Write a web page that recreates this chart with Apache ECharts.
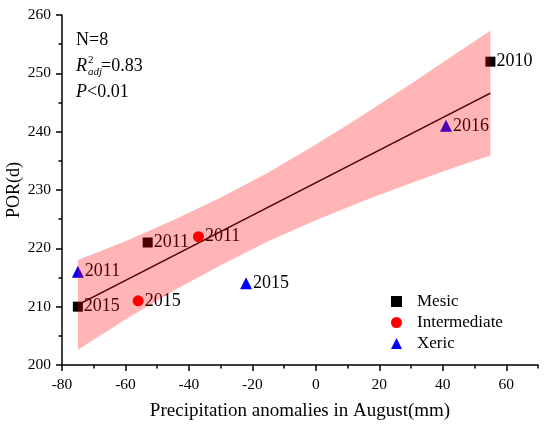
<!DOCTYPE html>
<html><head><meta charset="utf-8">
<script src="https://cdn.jsdelivr.net/npm/echarts@6/dist/echarts.min.js"></script>
<style>html,body{margin:0;padding:0;background:#fff}#c{width:550px;height:428px}</style>
</head><body><div id="c"></div>
<script>
// ---- data ----
const mesicX = [-75, -53, 55];
const mesicY = [210, 221, 252];
const mesicYears = ['2015', '2011', '2010'];
const interX = [-56, -37];
const interY = [211, 222];
const interYears = ['2015', '2011'];
const xericX = [-75, -22, 41];
const xericY = [216, 214, 241];
const xericYears = ['2011', '2015', '2016'];
const fitX = [-75, 55];
const fitY = [210.3, 246.6];
const bandX = [-75, -60, -45, -30, -15, 0, 15, 30, 45, 55];
const bandUpper = [218.0, 221.2, 224.8, 228.7, 233.0, 237.8, 242.9, 248.2, 253.7, 257.3];
const bandLower = [202.6, 207.8, 212.7, 217.1, 221.2, 224.8, 228.1, 231.2, 234.1, 235.9];
const xTicks = [-80, -60, -40, -20, 0, 20, 40, 60];
const xMinorTicks = [-70, -50, -30, -10, 10, 30, 50, 70];
const yTicks = [200, 210, 220, 230, 240, 250, 260];
const yMinorTicks = [205, 215, 225, 235, 245, 255];

const FONT = '"Liberation Serif", "Times New Roman", serif';
const chart = echarts.init(document.getElementById('c'), null, {renderer: 'canvas'});

function pts(xs, ys, yrs) { return xs.map((x, i) => [x, ys[i], yrs[i]]); }
const labelCfg = {
  show: true, position: 'right', distance: 1,
  formatter: p => p.value[2],
  color: '#000', fontFamily: FONT, fontSize: 18
};

const axisLineStyle = {color: '#000', width: 1.5};

chart.setOption({
  animation: false,
  backgroundColor: '#fff',
  grid: {left: 62, right: 12, top: 15, bottom: 63, containLabel: false, outerBoundsMode: 'none'},
  xAxis: [{
    type: 'value', min: -80, max: 70, position: 'bottom',
    name: 'Precipitation anomalies in August(mm)', nameLocation: 'middle', nameGap: 37,
    nameTextStyle: {fontFamily: FONT, fontSize: 19, color: '#000'},
    axisLine: {show: true, onZero: false, lineStyle: axisLineStyle},
    axisTick: {show: true, inside: false, length: 6, customValues: xTicks, lineStyle: axisLineStyle},
    axisLabel: {customValues: xTicks, fontFamily: FONT, fontSize: 15.5, color: '#000', margin: 12},
    splitLine: {show: false}
  }, {
    type: 'value', min: -80, max: 70, position: 'bottom',
    axisLine: {show: false, onZero: false},
    axisTick: {show: true, inside: false, length: 3.5, customValues: xMinorTicks, lineStyle: axisLineStyle},
    axisLabel: {show: false},
    splitLine: {show: false}
  }],
  yAxis: [{
    type: 'value', min: 200, max: 260, position: 'left',
    axisLine: {show: true, onZero: false, lineStyle: axisLineStyle},
    axisTick: {show: true, inside: false, length: 6, customValues: yTicks, lineStyle: axisLineStyle},
    axisLabel: {customValues: yTicks, fontFamily: FONT, fontSize: 15.5, color: '#000', margin: 11},
    splitLine: {show: false}
  }, {
    type: 'value', min: 200, max: 260, position: 'left',
    axisLine: {show: false, onZero: false},
    axisTick: {show: true, inside: false, length: 3.5, customValues: yMinorTicks, lineStyle: axisLineStyle},
    axisLabel: {show: false},
    splitLine: {show: false}
  }],
  legend: {
    orient: 'vertical', left: 386, top: 288, itemWidth: 11, itemHeight: 11, itemGap: 4,
    data: ['Mesic', 'Intermediate', 'Xeric'],
    textStyle: {fontFamily: FONT, fontSize: 17, color: '#000', padding: [0, 0, 0, 10]}
  },
  series: [
    {
      name: 'fit', type: 'line', z: 1, silent: true,
      data: fitX.map((x, i) => [x, fitY[i]]),
      showSymbol: false, lineStyle: {color: '#000', width: 1.5}
    },
    {
      name: 'Mesic', type: 'scatter', z: 2, symbol: 'rect', symbolSize: 10,
      itemStyle: {color: '#000', opacity: 1}, data: pts(mesicX, mesicY, mesicYears), label: labelCfg
    },
    {
      name: 'Intermediate', type: 'scatter', z: 2, symbol: 'circle', symbolSize: 11,
      itemStyle: {color: '#ff0000', opacity: 1}, data: pts(interX, interY, interYears), label: labelCfg
    },
    {
      name: 'Xeric', type: 'scatter', z: 2, symbol: 'triangle', symbolSize: 12,
      itemStyle: {color: '#0000ff', opacity: 1}, data: pts(xericX, xericY, xericYears), label: labelCfg
    },
    {
      name: 'band', type: 'custom', z: 5, silent: true,
      data: bandX.map((x, i) => [x, bandUpper[i], bandLower[i]]),
      encode: {x: 0, y: [1, 2]},
      renderItem: function (params, api) {
        if (params.dataIndex !== 0) return null;
        const poly = [];
        for (let i = 0; i < bandX.length; i++) poly.push(api.coord([bandX[i], bandUpper[i]]));
        for (let i = bandX.length - 1; i >= 0; i--) poly.push(api.coord([bandX[i], bandLower[i]]));
        return {type: 'polygon', shape: {points: poly}, style: {fill: 'rgba(255,0,0,0.29)'}};
      }
    }
  ],
  graphic: [
    {type: 'text', x: 14, y: 190, rotation: Math.PI / 2,
     style: {text: 'POR(d)', font: '18px ' + FONT, fill: '#000', align: 'center', verticalAlign: 'middle'}},
    {type: 'text', left: 76, top: 31, style: {text: 'N=8', font: '18px ' + FONT, fill: '#000'}},
    {type: 'text', left: 76, top: 57, style: {text: 'R', font: 'italic 18px ' + FONT, fill: '#000'}},
    {type: 'text', left: 88, top: 55, style: {text: '2', font: '11px ' + FONT, fill: '#000'}},
    {type: 'text', left: 88, top: 67, style: {text: 'adj', font: 'italic 11px ' + FONT, fill: '#000'}},
    {type: 'text', left: 101, top: 57, style: {text: '=0.83', font: '18px ' + FONT, fill: '#000'}},
    {type: 'text', left: 76, top: 83, style: {rich: {i: {font: 'italic 18px ' + FONT, fill: '#000'}, n: {font: '18px ' + FONT, fill: '#000'}}, text: '{i|P}{n|<0.01}'}}
  ]
});
</script></body></html>
